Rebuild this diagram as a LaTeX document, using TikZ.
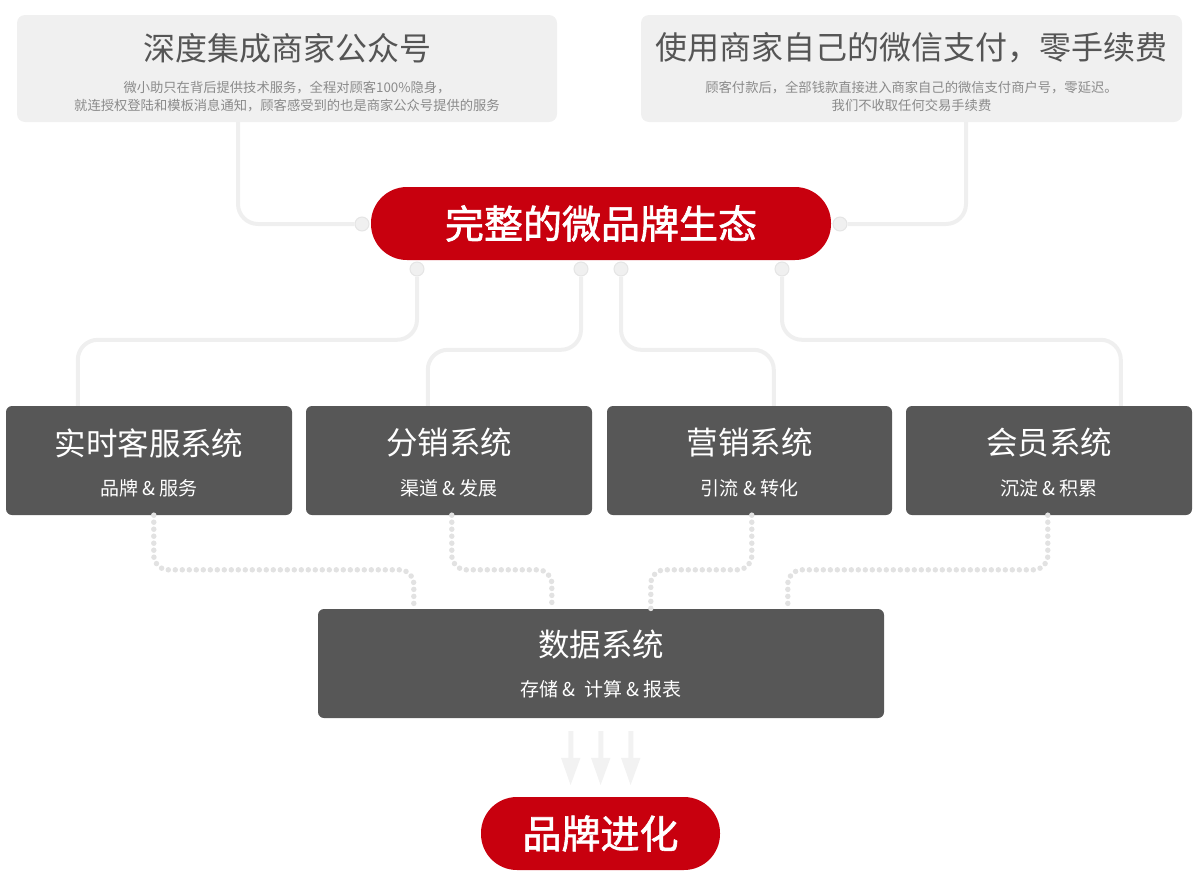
\documentclass[tikz,border=0pt]{standalone}
\usepackage{fontspec}
\setmainfont{Noto Sans CJK SC}
\newfontfamily\pillfont{Noto Sans CJK SC}[FakeBold=1.6]
\usepackage{xcolor}
\usetikzlibrary{
    arrows.meta,
    calc,
    positioning
}
\definecolor{brandred}{HTML}{C8000E}
\definecolor{boxgray}{HTML}{575757}
\definecolor{litegray}{HTML}{F0F0F0}
\definecolor{wiregray}{HTML}{EFEFEF}
\definecolor{dotgray}{HTML}{E2E2E2}
\definecolor{ttlgray}{HTML}{555555}
\definecolor{subgray}{HTML}{8A8A8A}
\tikzset{litebox/.style={inner sep=0pt, rounded corners=8pt, fill=litegray, minimum width=540pt, minimum height=107pt}}
\tikzset{sysbox/.style={inner sep=0pt, rounded corners=6pt, fill=boxgray, minimum width=286pt, minimum height=109pt}}
\tikzset{pill/.style={inner sep=0pt, rounded corners=36pt, fill=brandred, minimum height=73pt, text=white, font=\pillfont\fontsize{39}{39}\selectfont}}
\tikzset{bigttl/.style={inner sep=0pt, text=ttlgray, font=\fontsize{32}{32}\selectfont}}
\tikzset{smalltxt/.style={inner sep=0pt, align=center, text=subgray, font=\fontsize{13.3}{18}\selectfont}}
\tikzset{systtl/.style={inner sep=0pt, text=white, font=\fontsize{31.5}{31.5}\selectfont}}
\tikzset{syssub/.style={inner sep=0pt, text=white, font=\fontsize{19}{19}\selectfont}}
\tikzset{jdot/.style={circle, inner sep=0pt, minimum size=14pt, fill=litegray, draw=black!10, line width=1pt}}
\tikzset{wire/.style={draw=wiregray, line width=4pt, rounded corners=20pt}}
\tikzset{dotline/.style={draw=dotgray, line width=5.5pt, line cap=round, dash pattern=on 0pt off 7pt, rounded corners=14pt}}
\tikzset{flow/.style={draw=black!5, line width=5pt, -{Triangle[width=18pt, length=28pt]}, shorten <=13pt, shorten >=11pt}}

\begin{document}
\begin{tikzpicture}[x=1pt, y=-1pt]
                        \useasboundingbox (0, 0) rectangle (1200, 884);

                        \node[litebox] (gzh) at (287, 68.5) {};
                        \node[litebox, minimum width=541pt] (pay) at (911.5, 68.5) {};
                        \node[bigttl] (gzht) at (287, 48) {深度集成商家公众号};
                        \node[smalltxt] (gzhs) at (287, 96.5) {微小助只在背后提供技术服务，全程对顾客100\%隐身，\\就连授权登陆和模板消息通知，顾客感受到的也是商家公众号提供的服务};
                        \node[bigttl] (payt) at (911.5, 48) {使用商家自己的微信支付，零手续费};
                        \node[smalltxt] (pays) at (911.5, 96.5) {顾客付款后，全部钱款直接进入商家自己的微信支付商户号，零延迟。\\我们不收取任何交易手续费};

                        \node[pill, minimum width=460pt] (eco) at (601, 223.5) {完整的微品牌生态};
                        \node[jdot] (el) at (362, 224) {};
                        \node[jdot] (er) at (840, 224) {};
                        \node[jdot] (d1) at (417, 269) {};
                        \node[jdot] (d2) at (581, 269) {};
                        \node[jdot] (d3) at (621, 269) {};
                        \node[jdot] (d4) at (782, 269) {};

                        \node[sysbox] (b1) at (149, 460.5) {};
                        \node[sysbox] (b2) at (449, 460.5) {};
                        \node[sysbox, minimum width=285pt] (b3) at (749.5, 460.5) {};
                        \node[sysbox] (b4) at (1049, 460.5) {};
                        \node[systtl] (b1t) at (149, 443) {实时客服系统};
                        \node[syssub] (b1s) at (149, 488) {品牌 \& 服务};
                        \node[systtl] (b2t) at (449, 443) {分销系统};
                        \node[syssub] (b2s) at (449, 488) {渠道 \& 发展};
                        \node[systtl] (b3t) at (749.5, 443) {营销系统};
                        \node[syssub] (b3s) at (749.5, 488) {引流 \& 转化};
                        \node[systtl] (b4t) at (1049, 443) {会员系统};
                        \node[syssub] (b4s) at (1049, 488) {沉淀 \& 积累};

                        \node[sysbox, minimum width=566pt] (data) at (601, 663.5) {};
                        \node[systtl] (datat) at (601, 645) {数据系统};
                        \node[syssub] (datas) at (601, 689) {存储 \& \ 计算 \& 报表};

                        \node[pill, minimum width=239pt] (evo) at (600.5, 833.5) {品牌进化};

                        \draw[wire] ([xshift=-49pt]gzh.south) |- (el.west);
                        \draw[wire] (er.east) -| ([xshift=54.5pt]pay.south);

                        \draw[wire] (d1.south) |- ([xshift=72pt, yshift=66pt]b1.north west) -- ([xshift=72pt]b1.north west);
                        \draw[wire] (d2.south) |- ([xshift=122pt, yshift=56pt]b2.north west) -- ([xshift=122pt]b2.north west);
                        \draw[wire] (d3.south) |- ([xshift=167pt, yshift=56pt]b3.north west) -- ([xshift=167pt]b3.north west);
                        \draw[wire] (d4.south) |- ([xshift=215pt, yshift=66pt]b4.north west) -- ([xshift=215pt]b4.north west);

                        \draw[dotline] ([xshift=148pt]b1.south west) |- ([xshift=96pt, yshift=39pt]data.north west) -- ([xshift=96pt]data.north west);
                        \draw[dotline] ([xshift=146pt]b2.south west) |- ([xshift=234pt, yshift=39pt]data.north west) -- ([xshift=234pt]data.north west);
                        \draw[dotline] ([xshift=145pt]b3.south west) |- ([xshift=333pt, yshift=39pt]data.north west) -- ([xshift=333pt]data.north west);
                        \draw[dotline] ([xshift=142pt]b4.south west) |- ([xshift=470pt, yshift=39pt]data.north west) -- ([xshift=470pt]data.north west);

                        \foreach \dx in {-30, 0, 30}
                            \draw[flow] ([xshift=\dx pt]data.south) -- ([xshift=\dx pt]evo.north);
                    \end{tikzpicture}
\end{document}
